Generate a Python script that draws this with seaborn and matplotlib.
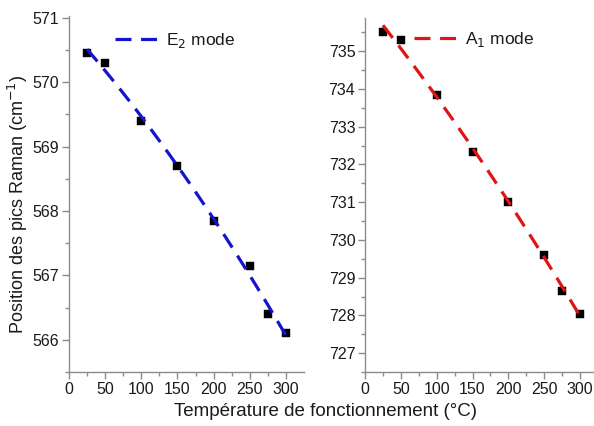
import numpy as np
import pandas as pd
import matplotlib
matplotlib.use("Agg")
import matplotlib.pyplot as plt
import seaborn as sns

temps = [25, 50, 100, 150, 200, 250, 275, 300]
e2_pos = [570.45, 570.30, 569.40, 568.70, 567.85, 567.15, 566.40, 566.10]
a1_pos = [735.50, 735.30, 733.85, 732.32, 731.00, 729.60, 728.65, 728.05]
e2_label = "E$_2$ mode"
a1_label = "A$_1$ mode"
xticks = [0, 50, 100, 150, 200, 250, 300]
e2_yticks = [566, 567, 568, 569, 570, 571]
a1_yticks = [727, 728, 729, 730, 731, 732, 733, 734, 735]

sns.set_theme(style="white")
plt.rcParams['font.family'] = ['Liberation Sans', 'DejaVu Sans']

fig = plt.figure(figsize=(5.94, 4.26), dpi=100)
W, H = 594, 426
ax1 = fig.add_axes([69 / W, 1 - 372 / H, 235 / W, (372 - 16) / H])
ax2 = fig.add_axes([365 / W, 1 - 372 / H, 233 / W, (372 - 18) / H])

df1 = pd.DataFrame({"T": temps, "P": e2_pos})
df2 = pd.DataFrame({"T": temps, "P": a1_pos})

axis_col = "#8c8c8c"
txt_col = "#1a1a1a"

for ax, df, col, lab, ylim, yt, anchor in [
    (ax1, df1, "#1414cc", e2_label, (565.5, 571.03), e2_yticks, (0.196, 0.93)),
    (ax2, df2, "#e01414", a1_label, (727, 735.88), a1_yticks, (0.21, 0.94)),
]:
    sns.scatterplot(data=df, x="T", y="P", ax=ax, marker="s", color="black",
                    s=38, edgecolor="black", linewidth=0.3, zorder=3, legend=False)
    sns.regplot(data=df, x="T", y="P", ax=ax, order=2, ci=None, scatter=False,
                color=col, line_kws=dict(lw=2.3, dashes=(5, 3), zorder=4))
    line = ax.lines[-1]
    ax.set_xlim(0, 325)
    ax.set_ylim(*ylim)
    ax.set_xticks(xticks)
    ax.set_yticks(yt)
    ax.set_xticks(np.arange(25, 325, 50), minor=True)
    ax.set_yticks(np.arange(yt[0] - 0.5, ylim[1], 1.0), minor=True)
    ax.set_xlabel("")
    ax.set_ylabel("")
    for s in ["top", "right"]:
        ax.spines[s].set_visible(False)
    for s in ["left", "bottom"]:
        ax.spines[s].set_color(axis_col)
        ax.spines[s].set_linewidth(1.0)
    ax.tick_params(which="major", direction="out", length=5, width=1.0,
                   color=axis_col, labelsize=11.5, labelcolor=txt_col,
                   left=True, bottom=True, pad=2)
    ax.tick_params(which="minor", direction="out", length=3, width=1.0,
                   color=axis_col, left=True, bottom=True)
    leg = ax.legend([line], [lab], loc="center left", bbox_to_anchor=anchor,
                    frameon=False, fontsize=12.5, handlelength=2.4,
                    handletextpad=0.55, borderaxespad=0.0, borderpad=0.0)
    for t in leg.get_texts():
        t.set_color(txt_col)

fig.text(18 / W, 0.5 + 0.02, "Position des pics Raman (cm$^{-1}$)", rotation=90,
         ha="center", va="center", fontsize=13, color=txt_col)
fig.text(325 / W, 1 - 411 / H, "Température de fonctionnement (°C)",
         ha="center", va="center", fontsize=13.5, color=txt_col)

fig.savefig("out.png", dpi=100)
